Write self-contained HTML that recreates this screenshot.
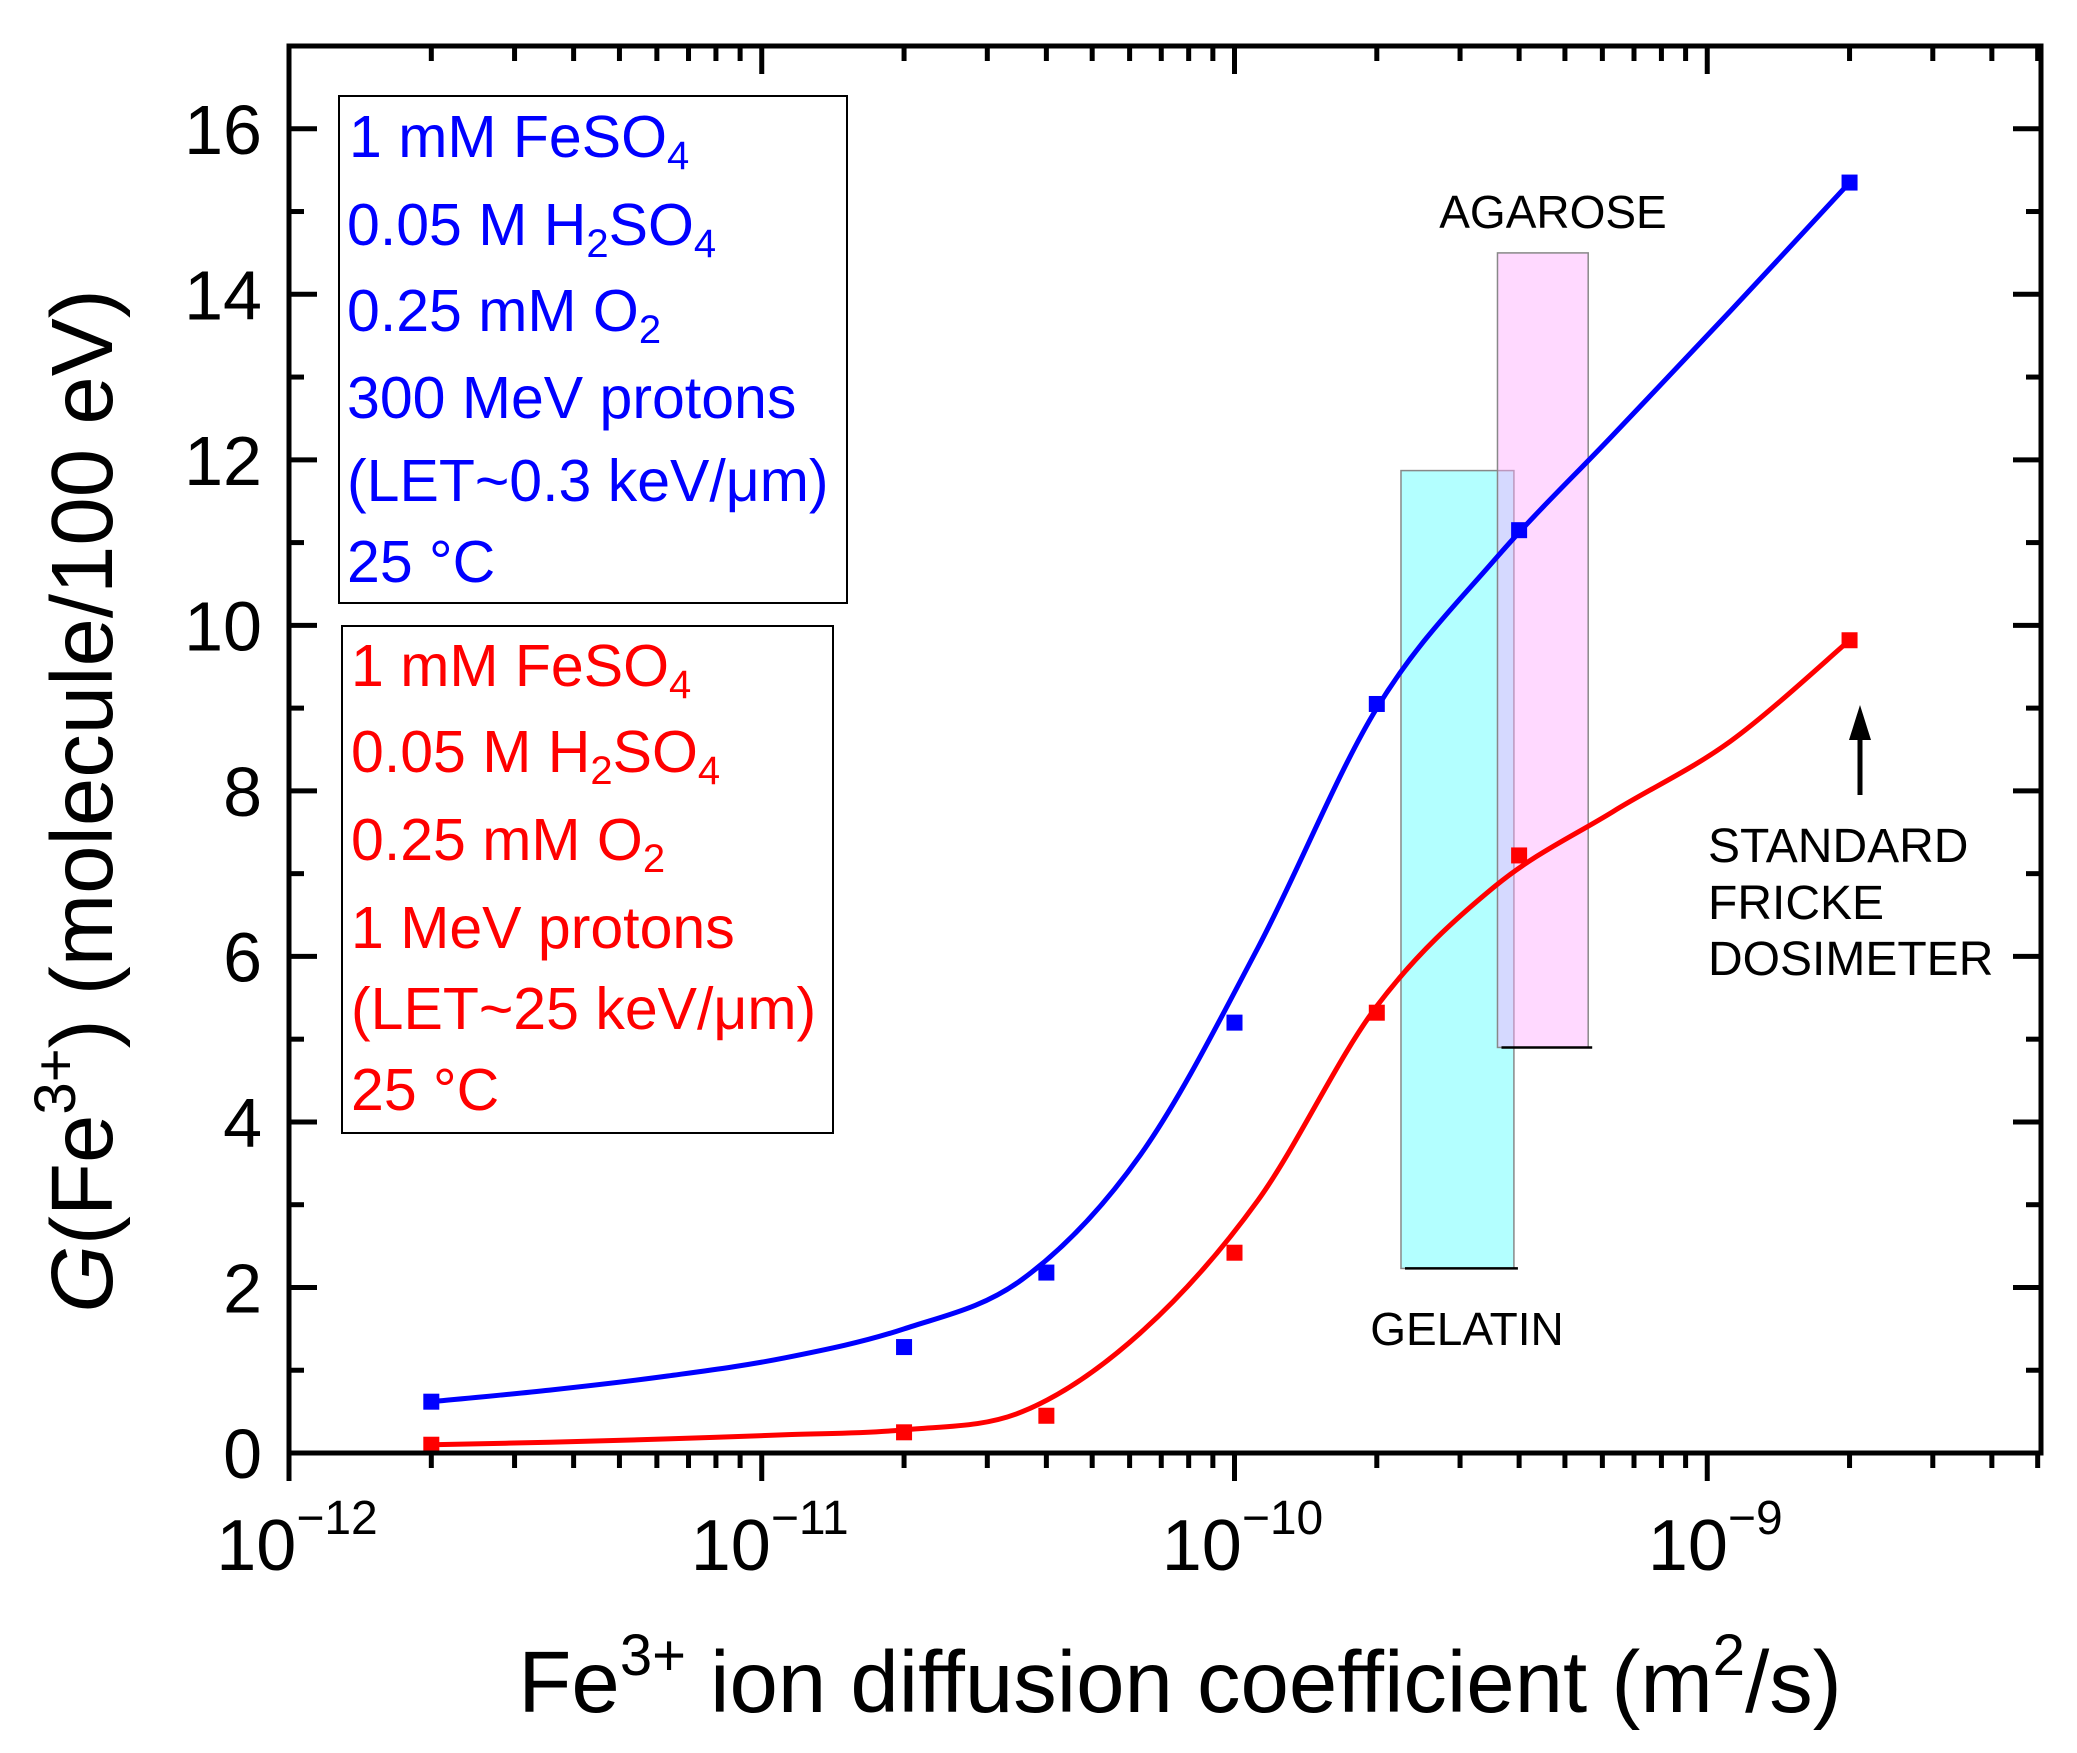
<!DOCTYPE html>
<html><head><meta charset="utf-8"><style>
html,body{margin:0;padding:0;background:#fff}
svg{display:block;font-family:"Liberation Sans",Arial,sans-serif}
</style></head><body>
<svg id="chart" width="2077" height="1753" viewBox="0 0 2077 1753" xmlns="http://www.w3.org/2000/svg">
<g id="bands"></g>
<g id="series"></g>
<g id="axes"></g>
<g fill="#0000ff" font-size="59">
<rect x="339" y="96" width="508" height="507" fill="none" stroke="#000" stroke-width="2"/>
<text x="349" y="157">1 mM FeSO<tspan font-size="40" dy="12">4</tspan></text>
<text x="347" y="245">0.05 M H<tspan font-size="40" dy="12">2</tspan><tspan dy="-12">SO</tspan><tspan font-size="40" dy="12">4</tspan></text>
<text x="347" y="331">0.25 mM O<tspan font-size="40" dy="12">2</tspan></text>
<text x="347" y="418">300 MeV protons</text>
<text x="347" y="501">(LET~0.3 keV/μm)</text>
<text x="347" y="582">25 °C</text>
</g>
<g fill="#ff0000" font-size="59">
<rect x="342" y="626" width="491" height="507" fill="none" stroke="#000" stroke-width="2"/>
<text x="351" y="686">1 mM FeSO<tspan font-size="40" dy="12">4</tspan></text>
<text x="351" y="772">0.05 M H<tspan font-size="40" dy="12">2</tspan><tspan dy="-12">SO</tspan><tspan font-size="40" dy="12">4</tspan></text>
<text x="351" y="860">0.25 mM O<tspan font-size="40" dy="12">2</tspan></text>
<text x="351" y="948">1 MeV protons</text>
<text x="351" y="1029">(LET~25 keV/μm)</text>
<text x="351" y="1110">25 °C</text>
</g>
<text x="1553" y="228" font-size="46" text-anchor="middle">AGAROSE</text>
<text x="1467" y="1345" font-size="46" text-anchor="middle">GELATIN</text>
<g font-size="48">
<text x="1708" y="862">STANDARD</text>
<text x="1708" y="919">FRICKE</text>
<text x="1708" y="975">DOSIMETER</text>
</g>
<g>
<line x1="1860" y1="795" x2="1860" y2="735" stroke="#000" stroke-width="5"/>
<polygon points="1860,705 1849,740 1871,740" fill="#000"/>
</g>
<text x="1180" y="1712" font-size="87" text-anchor="middle">Fe<tspan font-size="58" dy="-37">3+</tspan><tspan dy="37"> ion diffusion coefficient (m</tspan><tspan font-size="58" dy="-37">2</tspan><tspan dy="37">/s)</tspan></text>
<text transform="translate(112,801) rotate(-90)" font-size="87" text-anchor="middle"><tspan font-style="italic">G</tspan>(Fe<tspan font-size="58" dy="-37">3+</tspan><tspan dy="37">) (molecule/100 eV)</tspan></text>
</svg>
<script>
// data
const xPoints = [2e-12, 2e-11, 4e-11, 1e-10, 2e-10, 4e-10, 2e-9];
const bluePoints = [0.62, 1.28, 2.18, 5.2, 9.05, 11.15, 15.35];
const redPoints = [0.1, 0.25, 0.45, 2.42, 5.32, 7.22, 9.82];
const fitX = [2e-12, 3.56e-12, 6.32e-12, 1.12e-11, 2e-11, 3.56e-11, 6.32e-11, 1.12e-10, 2e-10, 3.56e-10, 6.32e-10, 1.12e-9, 2e-9];
const blueFit = [0.62, 0.76, 0.93, 1.15, 1.5, 2.1, 3.6, 6.1, 9.0, 10.8, 12.3, 13.8, 15.35];
const redFit = [0.1, 0.13, 0.17, 0.22, 0.28, 0.5, 1.45, 3.05, 5.4, 6.85, 7.75, 8.6, 9.82];
const gelatinBand = [2.25e-10, 3.9e-10, 2.23, 11.87];
const agaroseBand = [3.6e-10, 5.6e-10, 4.9, 14.5];
const yTicks = [0, 2, 4, 6, 8, 10, 12, 14, 16];
const xDecades = [-12, -11, -10, -9];
const xTickLabels = ["\u221212", "\u221211", "\u221210", "\u22129"];

const NS = "http://www.w3.org/2000/svg";
const L = 289, R = 2041, T = 46, B = 1453;
const XMIN = -12, XMAX = -12 + 3.706, YMIN = 0, YMAX = 17;
const sx = v => L + (Math.log10(v) - XMIN) / (XMAX - XMIN) * (R - L);
const sy = v => B - (v - YMIN) / (YMAX - YMIN) * (B - T);
function mk(tag, attrs, parent) {
  const e = document.createElementNS(NS, tag);
  for (const k in attrs) e.setAttribute(k, attrs[k]);
  parent.appendChild(e);
  return e;
}
const bands = document.getElementById('bands');
const series = document.getElementById('series');
const axes = document.getElementById('axes');

function band(b, fill, name) {
  const x1 = sx(b[0]), x2 = sx(b[1]), y1 = sy(b[3]), y2 = sy(b[2]);
  const r = mk('rect', {x: x1, y: y1, width: x2 - x1, height: y2 - y1, fill: fill, stroke: '#888', 'stroke-width': 1.5}, bands);
  
  
  const l = mk('line', {x1: x1 + 4, x2: x2 + 4, y1: y2, y2: y2, stroke: '#000', 'stroke-width': 2.5}, bands);
  
  
}
band(gelatinBand, 'rgba(128,255,255,0.6)', 'gelatin-band');
band(agaroseBand, 'rgba(255,170,255,0.45)', 'agarose-band');

function curve(xs, ys, color, name) {
  const p = xs.map((x, i) => [sx(x), sy(ys[i])]);
  let d = 'M' + p[0][0] + ',' + p[0][1];
  for (let i = 0; i < p.length - 1; i++) {
    const p0 = p[Math.max(0, i - 1)], p1 = p[i], p2 = p[i + 1], p3 = p[Math.min(p.length - 1, i + 2)];
    const c1 = [p1[0] + (p2[0] - p0[0]) / 6, p1[1] + (p2[1] - p0[1]) / 6];
    const c2 = [p2[0] - (p3[0] - p1[0]) / 6, p2[1] - (p3[1] - p1[1]) / 6];
    d += ' C' + c1 + ' ' + c2 + ' ' + p2;
  }
  const path = mk('path', {d: d, fill: 'none', stroke: color, 'stroke-width': 5}, series);
  
  
}
function markers(xs, ys, color, name) {
  xs.forEach((x, i) => {
    const r = mk('rect', {x: sx(x) - 8, y: sy(ys[i]) - 8, width: 16, height: 16, fill: color}, series);
    
    
  });
}
curve(fitX, blueFit, '#0000ff', 'blue-fit-line');
curve(fitX, redFit, '#ff0000', 'red-fit-line');
markers(xPoints, bluePoints, '#0000ff', 'blue-point');
markers(xPoints, redPoints, '#ff0000', 'red-point');

const frame = mk('rect', {x: L, y: T, width: R - L, height: B - T, fill: 'none', stroke: '#000', 'stroke-width': 5}, axes);



for (let v = 0; v <= 17; v++) {
  const y = sy(v), len = v % 2 === 0 ? 28 : 15;
  mk('line', {x1: L, x2: L + len, y1: y, y2: y, stroke: '#000', 'stroke-width': 5}, axes);
  mk('line', {x1: R, x2: R - len, y1: y, y2: y, stroke: '#000', 'stroke-width': 5}, axes);
}
yTicks.forEach(v => {
  const t = mk('text', {x: 262, y: sy(v) + 25, 'font-size': 70, 'text-anchor': 'end'}, axes);
  t.textContent = v;
  
  
});
for (let d = -12; d <= -9; d++) {
  for (let m = 1; m <= 9; m++) {
    const v = m * Math.pow(10, d);
    if (Math.log10(v) > XMAX + 1e-9) break;
    const x = sx(v), len = m === 1 ? 28 : 15;
    mk('line', {x1: x, x2: x, y1: B, y2: B + len, stroke: '#000', 'stroke-width': 5}, axes);
    mk('line', {x1: x, x2: x, y1: T, y2: T + len, stroke: '#000', 'stroke-width': 5}, axes);
  }
}
xDecades.forEach((d, i) => {
  const t = mk('text', {x: sx(Math.pow(10, d)) + 8, y: 1570, 'font-size': 72, 'text-anchor': 'middle'}, axes);
  
  
  const a = document.createElementNS(NS, 'tspan'); a.textContent = '10'; t.appendChild(a);
  const b = document.createElementNS(NS, 'tspan'); b.textContent = xTickLabels[i];
  b.setAttribute('font-size', '48'); b.setAttribute('dy', '-36'); t.appendChild(b);
});
</script>
</body></html>
